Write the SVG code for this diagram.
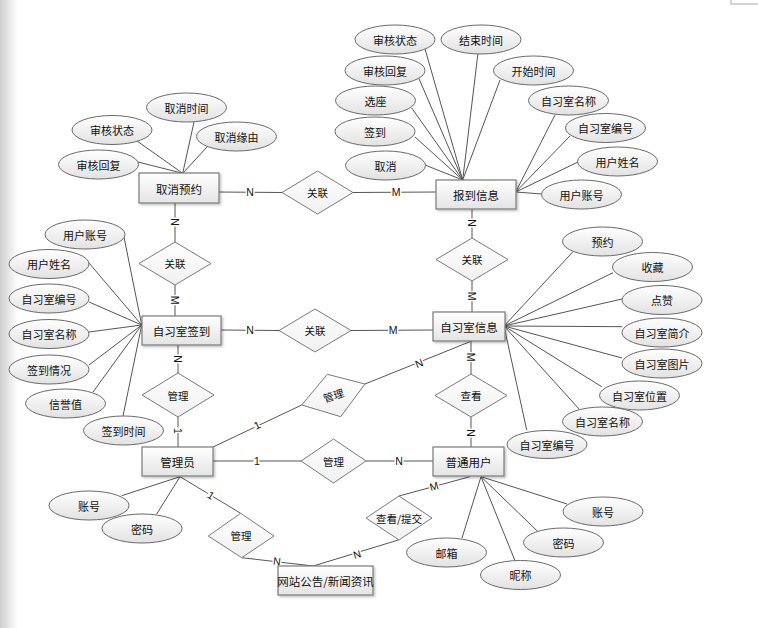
<svg xmlns="http://www.w3.org/2000/svg" width="758" height="628" viewBox="0 0 758 628">
<defs>
<linearGradient id="gEdge" x1="0" y1="0" x2="1" y2="0"><stop offset="0" stop-color="#cfcfcf"/><stop offset="1" stop-color="#ffffff"/></linearGradient>
<linearGradient id="gBox" x1="0" y1="0" x2="0" y2="1"><stop offset="0" stop-color="#ffffff"/><stop offset="1" stop-color="#e4e4e4"/></linearGradient>
<linearGradient id="gEll" x1="0" y1="0" x2="0" y2="1"><stop offset="0" stop-color="#ffffff"/><stop offset="1" stop-color="#e2e2e2"/></linearGradient>
<linearGradient id="gDia" x1="0" y1="0" x2="0" y2="1"><stop offset="0" stop-color="#ffffff"/><stop offset="1" stop-color="#f0f0f0"/></linearGradient>
<filter id="sh" x="-20%" y="-20%" width="140%" height="150%"><feDropShadow dx="1.5" dy="1.5" stdDeviation="1" flood-color="#000" flood-opacity="0.25"/></filter>
</defs>
<style>
.ent rect{fill:url(#gBox);stroke:#7a7a7a;stroke-width:1.2;filter:url(#sh)}
.att ellipse{fill:url(#gEll);stroke:#6a6a6a;stroke-width:1}
.rel polygon{fill:url(#gDia);stroke:#7a7a7a;stroke-width:1}
text{font-family:"Noto Sans CJK SC","Liberation Sans",sans-serif;fill:#111;text-anchor:middle;dominant-baseline:central}
.ent text{font-size:11.5px}
.att text{font-size:11px}
.rel text{font-size:10.5px}
.lk line,.lk polyline{stroke:#555;stroke-width:1;fill:none}
.lb{font-family:"Liberation Sans",sans-serif;font-size:10.5px;stroke:#fff;stroke-width:3;paint-order:stroke;fill:#111}
</style>
<rect x="0" y="0" width="758" height="628" fill="#fff"/>
<rect x="0" y="0" width="18" height="628" fill="url(#gEdge)"/>
<polyline points="731,0 731,4 758,4" fill="none" stroke="#aaa" stroke-width="1"/>

<g id="connectors" class="lk">
<!-- attribute lines -->
<line x1="182.7" y1="173.3" x2="138" y2="162"/>
<line x1="182.7" y1="173.3" x2="137" y2="141"/>
<line x1="182.7" y1="173.3" x2="194" y2="122"/>
<line x1="182.7" y1="173.3" x2="207" y2="147"/>
<line x1="462.7" y1="180" x2="425" y2="49"/>
<line x1="462.7" y1="180" x2="478" y2="53"/>
<line x1="462.7" y1="180" x2="418.7" y2="78"/>
<line x1="462.7" y1="180" x2="500" y2="80"/>
<line x1="462.7" y1="180" x2="411.7" y2="108"/>
<line x1="462.7" y1="180" x2="415" y2="137"/>
<line x1="462.7" y1="180" x2="425" y2="165"/>
<line x1="515.7" y1="192" x2="555" y2="115"/>
<line x1="515.7" y1="192" x2="570" y2="136"/>
<line x1="515.7" y1="192" x2="578" y2="162"/>
<line x1="515.7" y1="192" x2="542" y2="194"/>
<line x1="141.7" y1="325" x2="124" y2="237"/>
<line x1="141.7" y1="325" x2="89" y2="263"/>
<line x1="141.7" y1="325" x2="89" y2="302"/>
<line x1="141.7" y1="325" x2="89" y2="332"/>
<line x1="141.7" y1="325" x2="89" y2="365"/>
<line x1="141.7" y1="325" x2="93" y2="392"/>
<line x1="141.7" y1="325" x2="123" y2="416"/>
<line x1="504" y1="326" x2="572.7" y2="252"/>
<line x1="504" y1="326" x2="613" y2="272.7"/>
<line x1="504" y1="326" x2="622" y2="299"/>
<line x1="504" y1="326" x2="622" y2="326.7"/>
<line x1="504" y1="326" x2="622" y2="358"/>
<line x1="504" y1="326" x2="601.7" y2="386.7"/>
<line x1="504" y1="326" x2="579" y2="409"/>
<line x1="504" y1="326" x2="526.7" y2="430"/>
<line x1="180" y1="476.7" x2="121.7" y2="495.7"/>
<line x1="180" y1="476.7" x2="156.7" y2="514"/>
<line x1="481" y1="476.7" x2="567" y2="504"/>
<line x1="481" y1="476.7" x2="538" y2="531.7"/>
<line x1="481" y1="476.7" x2="462" y2="538"/>
<line x1="481" y1="476.7" x2="515" y2="560.7"/>
<!-- relationship lines -->
<line x1="219" y1="192" x2="282" y2="192.5"/>
<line x1="353" y1="192.5" x2="436" y2="192"/>
<line x1="175" y1="203" x2="175" y2="242"/>
<line x1="175" y1="285" x2="175" y2="316"/>
<line x1="221" y1="330" x2="279" y2="330.5"/>
<line x1="351" y1="330.5" x2="433" y2="330"/>
<line x1="472" y1="209" x2="472" y2="238"/>
<line x1="472" y1="281" x2="472" y2="312"/>
<line x1="178" y1="345" x2="178" y2="373"/>
<line x1="178" y1="417" x2="178" y2="447"/>
<line x1="213" y1="447" x2="301.7" y2="405"/>
<line x1="365" y1="384" x2="471.7" y2="341"/>
<line x1="471" y1="341" x2="471" y2="374"/>
<line x1="471" y1="417" x2="471" y2="447"/>
<line x1="213" y1="461" x2="301" y2="461"/>
<line x1="366" y1="461" x2="433" y2="461"/>
<line x1="180" y1="476.7" x2="240.7" y2="513.3"/>
<line x1="241.7" y1="557.7" x2="313.3" y2="566"/>
<line x1="313.3" y1="566" x2="398.3" y2="540"/>
<line x1="399" y1="496" x2="470" y2="476.7"/>
<!-- cardinality labels -->
<text class="lb" x="250" y="192">N</text>
<text class="lb" x="396" y="192">M</text>
<text class="lb" transform="translate(175,222) rotate(90)">N</text>
<text class="lb" transform="translate(175,300) rotate(90)">M</text>
<text class="lb" x="250" y="330">N</text>
<text class="lb" x="393" y="330">M</text>
<text class="lb" transform="translate(472,223) rotate(90)">N</text>
<text class="lb" transform="translate(472,296) rotate(90)">M</text>
<text class="lb" transform="translate(178,359) rotate(90)">N</text>
<text class="lb" transform="translate(178,431) rotate(90)">1</text>
<text class="lb" transform="translate(257,425) rotate(-25)">1</text>
<text class="lb" transform="translate(419,363) rotate(-22)">N</text>
<text class="lb" transform="translate(471,357) rotate(90)">M</text>
<text class="lb" transform="translate(471,433) rotate(90)">N</text>
<text class="lb" x="257" y="461">1</text>
<text class="lb" x="399" y="461">N</text>
<text class="lb" transform="translate(211,495) rotate(31)">1</text>
<text class="lb" transform="translate(277,561) rotate(7)">N</text>
<text class="lb" transform="translate(357,554) rotate(-17)">N</text>
<text class="lb" transform="translate(434,486) rotate(-15)">M</text>
</g>

<g id="e-cancel" class="ent"><rect x="139" y="173" width="80" height="30"/><text x="179" y="188.5">取消预约</text></g>
<g id="e-checkin-info" class="ent"><rect x="436" y="180" width="80" height="29"/><text x="476" y="195">报到信息</text></g>
<g id="e-room-signin" class="ent"><rect x="142" y="316" width="79" height="29"/><text x="181.5" y="330.5">自习室签到</text></g>
<g id="e-room-info" class="ent"><rect x="433" y="312" width="72" height="29"/><text x="469" y="326.5">自习室信息</text></g>
<g id="e-admin" class="ent"><rect x="142" y="447" width="71" height="29"/><text x="177.5" y="461.5">管理员</text></g>
<g id="e-user" class="ent"><rect x="433" y="447" width="71" height="29"/><text x="468.5" y="461.5">普通用户</text></g>
<g id="e-news" class="ent"><rect x="278" y="566" width="95" height="29"/><text x="325.5" y="580.5">网站公告/新闻资讯</text></g>

<g id="r1" class="rel"><polygon points="282,192.5 317.5,171 353,192.5 317.5,214"/><text x="317.5" y="192.5">关联</text></g>
<g id="r2" class="rel"><polygon points="139,263.5 175,242 211,263.5 175,285"/><text x="175" y="263.5">关联</text></g>
<g id="r3" class="rel"><polygon points="279,330.5 315,309 351,330.5 315,352"/><text x="315" y="330.5">关联</text></g>
<g id="r4" class="rel"><polygon points="436,259.5 472,238 508,259.5 472,281"/><text x="472" y="259.5">关联</text></g>
<g id="r5" class="rel"><polygon points="142,395 178,373 214,395 178,417"/><text x="178" y="395">管理</text></g>
<g id="r6" class="rel"><polygon points="301.7,405 327.3,374.3 365,384 340.7,416.7"/><text transform="translate(333.3,395.3) rotate(-18)">管理</text></g>
<g id="r7" class="rel"><polygon points="435,395.5 471,374 507,395.5 471,417"/><text x="471" y="395.5">查看</text></g>
<g id="r8" class="rel"><polygon points="301,461 333.5,439 366,461 333.5,483"/><text x="333.5" y="461">管理</text></g>
<g id="r9" class="rel"><polygon points="208.3,536 240.7,513.3 274,536 241.7,557.7"/><text x="241" y="535.5">管理</text></g>
<g id="r10" class="rel"><polygon points="366,518 399,496 432,518 399,540"/><text x="399" y="518">查看/提交</text></g>

<g id="a-cancel-time" class="att"><ellipse cx="186.5" cy="107.5" rx="40" ry="14.5"/><text x="186.5" y="107.5">取消时间</text></g>
<g id="a-cancel-status" class="att"><ellipse cx="112" cy="130" rx="40" ry="14.5"/><text x="112" y="130">审核状态</text></g>
<g id="a-cancel-reason" class="att"><ellipse cx="236.5" cy="136.5" rx="40" ry="14.5"/><text x="236.5" y="136.5">取消缘由</text></g>
<g id="a-cancel-reply" class="att"><ellipse cx="98.5" cy="164.5" rx="40" ry="14.5"/><text x="98.5" y="164.5">审核回复</text></g>

<g id="a-ci-status" class="att"><ellipse cx="395" cy="39.5" rx="40" ry="14.5"/><text x="395" y="39.5">审核状态</text></g>
<g id="a-ci-end" class="att"><ellipse cx="481" cy="39.5" rx="40" ry="14.5"/><text x="481" y="39.5">结束时间</text></g>
<g id="a-ci-reply" class="att"><ellipse cx="385" cy="70.5" rx="40" ry="14.5"/><text x="385" y="70.5">审核回复</text></g>
<g id="a-ci-start" class="att"><ellipse cx="533.5" cy="70.5" rx="40" ry="14.5"/><text x="533.5" y="70.5">开始时间</text></g>
<g id="a-ci-seat" class="att"><ellipse cx="375.5" cy="100.5" rx="40" ry="14.5"/><text x="375.5" y="100.5">选座</text></g>
<g id="a-ci-roomname" class="att"><ellipse cx="568.5" cy="100.5" rx="40" ry="14.5"/><text x="568.5" y="100.5">自习室名称</text></g>
<g id="a-ci-sign" class="att"><ellipse cx="375" cy="131.5" rx="40" ry="14.5"/><text x="375" y="131.5">签到</text></g>
<g id="a-ci-roomno" class="att"><ellipse cx="605.5" cy="128" rx="40" ry="14.5"/><text x="605.5" y="128">自习室编号</text></g>
<g id="a-ci-cancel" class="att"><ellipse cx="385.5" cy="165.5" rx="40" ry="14.5"/><text x="385.5" y="165.5">取消</text></g>
<g id="a-ci-username" class="att"><ellipse cx="617.5" cy="161.5" rx="40" ry="14.5"/><text x="617.5" y="161.5">用户姓名</text></g>
<g id="a-ci-account" class="att"><ellipse cx="581.5" cy="194.5" rx="40" ry="14.5"/><text x="581.5" y="194.5">用户账号</text></g>

<g id="a-rs-account" class="att"><ellipse cx="85" cy="234.5" rx="40" ry="14.5"/><text x="85" y="234.5">用户账号</text></g>
<g id="a-rs-username" class="att"><ellipse cx="49" cy="264" rx="40" ry="14.5"/><text x="49" y="264">用户姓名</text></g>
<g id="a-rs-roomno" class="att"><ellipse cx="49" cy="298.5" rx="40" ry="14.5"/><text x="49" y="298.5">自习室编号</text></g>
<g id="a-rs-roomname" class="att"><ellipse cx="49" cy="334" rx="40" ry="14.5"/><text x="49" y="334">自习室名称</text></g>
<g id="a-rs-state" class="att"><ellipse cx="49" cy="369.5" rx="40" ry="14.5"/><text x="49" y="369.5">签到情况</text></g>
<g id="a-rs-credit" class="att"><ellipse cx="65.5" cy="403.5" rx="40" ry="14.5"/><text x="65.5" y="403.5">信誉值</text></g>
<g id="a-rs-time" class="att"><ellipse cx="123.5" cy="430.5" rx="40" ry="14.5"/><text x="123.5" y="430.5">签到时间</text></g>

<g id="a-ri-book" class="att"><ellipse cx="602.5" cy="241.5" rx="40" ry="14.5"/><text x="602.5" y="241.5">预约</text></g>
<g id="a-ri-fav" class="att"><ellipse cx="652.5" cy="267" rx="40" ry="14.5"/><text x="652.5" y="267">收藏</text></g>
<g id="a-ri-like" class="att"><ellipse cx="662" cy="300" rx="40" ry="14.5"/><text x="662" y="300">点赞</text></g>
<g id="a-ri-intro" class="att"><ellipse cx="662" cy="332.5" rx="40" ry="14.5"/><text x="662" y="332.5">自习室简介</text></g>
<g id="a-ri-pic" class="att"><ellipse cx="662" cy="363.5" rx="40" ry="14.5"/><text x="662" y="363.5">自习室图片</text></g>
<g id="a-ri-loc" class="att"><ellipse cx="639.5" cy="395.5" rx="40" ry="14.5"/><text x="639.5" y="395.5">自习室位置</text></g>
<g id="a-ri-name" class="att"><ellipse cx="602.5" cy="421.5" rx="40" ry="14.5"/><text x="602.5" y="421.5">自习室名称</text></g>
<g id="a-ri-no" class="att"><ellipse cx="547" cy="444.5" rx="40" ry="14"/><text x="547" y="444.5">自习室编号</text></g>

<g id="a-ad-account" class="att"><ellipse cx="89" cy="505.5" rx="40" ry="14.5"/><text x="89" y="505.5">账号</text></g>
<g id="a-ad-pwd" class="att"><ellipse cx="142" cy="528.5" rx="40" ry="14.5"/><text x="142" y="528.5">密码</text></g>

<g id="a-us-account" class="att"><ellipse cx="603" cy="511.5" rx="40" ry="14.5"/><text x="603" y="511.5">账号</text></g>
<g id="a-us-pwd" class="att"><ellipse cx="563.5" cy="542.5" rx="40" ry="14.5"/><text x="563.5" y="542.5">密码</text></g>
<g id="a-us-mail" class="att"><ellipse cx="446.5" cy="552.5" rx="40" ry="14.5"/><text x="446.5" y="552.5">邮箱</text></g>
<g id="a-us-nick" class="att"><ellipse cx="520.5" cy="575" rx="40" ry="14.5"/><text x="520.5" y="575">昵称</text></g>
</svg>
